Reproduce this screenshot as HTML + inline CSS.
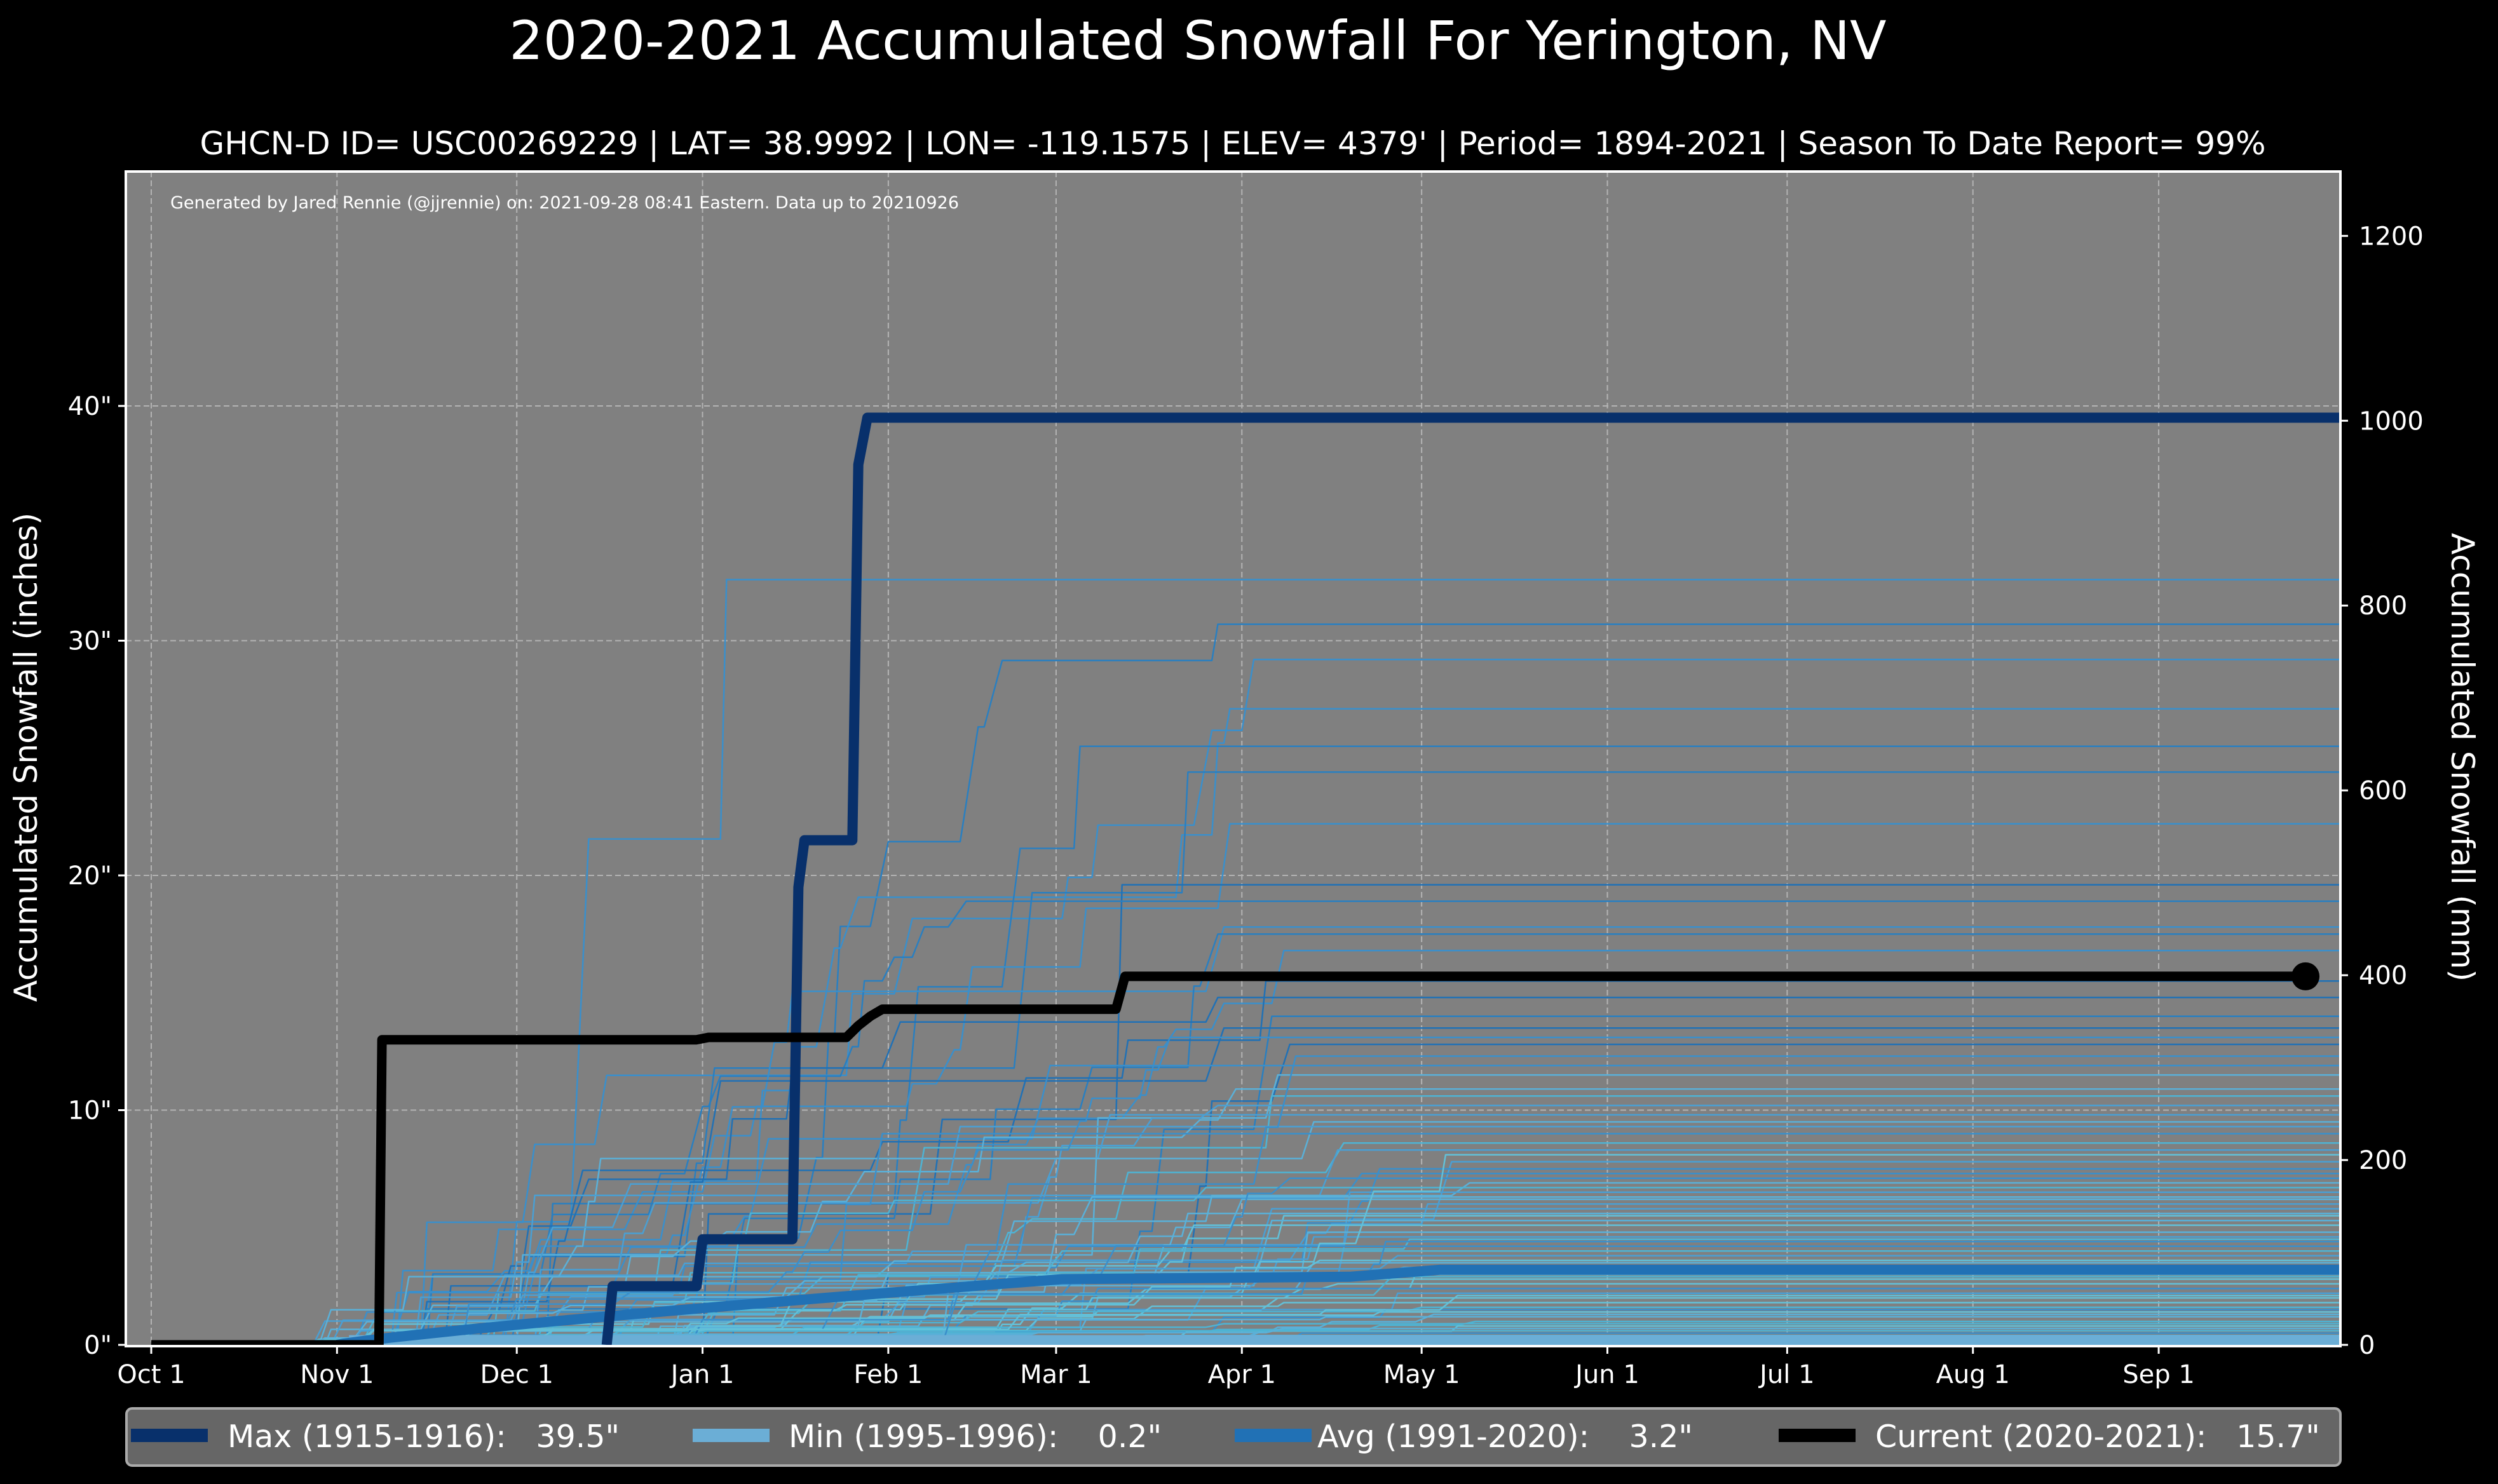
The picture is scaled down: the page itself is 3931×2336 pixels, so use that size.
<!DOCTYPE html>
<html><head><meta charset="utf-8"><style>
html,body{margin:0;padding:0;background:#000;}
svg{display:block;}
text{font-family:"DejaVu Sans","Liberation Sans",sans-serif;fill:#fff;}
</style></head><body>
<svg id="s" xmlns="http://www.w3.org/2000/svg" width="3931" height="2336" viewBox="0 0 3931 2336">
<rect width="3931" height="2336" fill="#000"/>
<text x="1885" y="93" font-size="84" text-anchor="middle">2020-2021 Accumulated Snowfall For Yerington, NV</text>
<text x="1940" y="243" font-size="50" text-anchor="middle">GHCN-D ID= USC00269229 | LAT= 38.9992 | LON= -119.1575 | ELEV= 4379' | Period= 1894-2021 | Season To Date Report= 99%</text>
<defs><clipPath id="cp"><rect x="198" y="270" width="3485" height="1849"/></clipPath></defs>
<rect x="198" y="270" width="3485" height="1849" fill="#808080"/>
<g id="grid" stroke="#c0c0c0" stroke-width="2" stroke-dasharray="9,5" opacity="0.8"></g>
<text x="268" y="328" font-size="27">Generated by Jared Rennie (@jjrennie) on: 2021-09-28 08:41 Eastern. Data up to 20210926</text>
<g id="thin" clip-path="url(#cp)" fill="none" stroke-width="2.5" stroke-linejoin="round"></g>
<g id="main" clip-path="url(#cp)" fill="none" stroke-linejoin="round"></g>
<rect x="198" y="270" width="3485" height="1849" fill="none" stroke="#fff" stroke-width="4"/>
<g id="ticks" stroke="#fff" stroke-width="3"></g>
<g id="labels" font-size="40"></g>
<text transform="translate(58,1192) rotate(-90)" font-size="50" text-anchor="middle">Accumulated Snowfall (inches)</text>
<text transform="translate(3858,1192) rotate(90)" font-size="50" text-anchor="middle">Accumulated Snowfall (mm)</text>
<rect x="199" y="2217" width="3484" height="90" rx="9" fill="#666" stroke="#aaa" stroke-width="4"/>
<rect x="206" y="2249" width="121" height="21" fill="#08306b"/>
<text x="358" y="2278" font-size="49" xml:space="preserve">Max (1915-1916):   39.5"</text>
<rect x="1090" y="2249" width="121" height="21" fill="#6baed6"/>
<text x="1241" y="2278" font-size="49" xml:space="preserve">Min (1995-1996):    0.2"</text>
<rect x="1943" y="2249" width="121" height="21" fill="#2171b5"/>
<text x="2073" y="2278" font-size="49" xml:space="preserve">Avg (1991-2020):    3.2"</text>
<rect x="2799" y="2249" width="121" height="21" fill="#000"/>
<text x="2951" y="2278" font-size="49" xml:space="preserve">Current (2020-2021):   15.7"</text>
</svg>
<script>
var NS="http://www.w3.org/2000/svg";
function X(d){return 238+d*9.43;}
function Y(v){return 2117-v*36.95;}
function el(p,t,a){var e=document.createElementNS(NS,t);for(var k in a)e.setAttribute(k,a[k]);p.appendChild(e);return e;}
var grid=document.getElementById('grid'),ticks=document.getElementById('ticks'),lab=document.getElementById('labels');
var months=[["Oct 1",0],["Nov 1",31],["Dec 1",61],["Jan 1",92],["Feb 1",123],["Mar 1",151],["Apr 1",182],["May 1",212],["Jun 1",243],["Jul 1",273],["Aug 1",304],["Sep 1",335]];
months.forEach(function(m){var x=X(m[1]);el(grid,'line',{x1:x,y1:270,x2:x,y2:2119});
 el(ticks,'line',{x1:x,y1:2119,x2:x,y2:2131});var t=el(lab,'text',{x:x,y:2177,'text-anchor':'middle'});t.textContent=m[0];});
for(var v=0;v<=40;v+=10){var y=Y(v);if(v>0)el(grid,'line',{x1:198,y1:y,x2:3683,y2:y});
 el(ticks,'line',{x1:186,y1:y,x2:198,y2:y});var t=el(lab,'text',{x:176,y:y+14,'text-anchor':'end'});t.textContent=v+'"';}
for(var mm=0;mm<=1200;mm+=200){var y=Y(mm/25.4);el(ticks,'line',{x1:3683,y1:y,x2:3695,y2:y});
 var t=el(lab,'text',{x:3712,y:y+14});t.textContent=mm;}
var seed=777;function r(){seed=(seed*16807)%2147483647;return (seed-1)/2147483646;}
var finals=[32.6,30.7,29.2,27.1,25.5,24.4,22.2,19.6,18.9,17.8,17.5,16.8,15.5,14.8,14.0,13.5,12.8,11.9,11.5,10.9,10.6,10.2,9.8,9.5,9.3,9.0,8.6,8.3,7.8,7.5,7.3,6.9,6.7,6.5,6.2,6.0,5.8,5.5,5.3,5.1,4.8,4.6,4.5,4.2,4.0,3.8,3.5,3.3,3.0,2.8,2.6,2.4,2.2,2.0,1.8,1.6,1.5,1.3,1.2,1.0,0.9,0.8,0.6,0.5,0.4,0.3,2.9,3.6,4.4,5.6,6.3,7.1,8.1,1.4,2.1,0.7,12.3,13.1];
var cols=["#2171b5","#2a7fc0","#3a8fcb","#4a9fd3","#4eb3d3","#5ab0d8","#62c0d8"];
var thin=document.getElementById('thin');
finals.forEach(function(T,i){
 var n=3+Math.floor(r()*(T>10?9:5));var ev=[],w=[],sw=0;
 for(var k=0;k<n;k++){var d=T>10?(40+Math.floor(r()*150)):(25+Math.floor(Math.pow(r(),0.9)*195));ev.push(d);var ww=r()+0.3;w.push(ww);sw+=ww;}
 ev.sort(function(a,b){return a-b;});
 var v=0,pts=[[0,0]],cur=0;
 for(var k=0;k<n;k++){var d=Math.max(ev[k],cur+1);pts.push([d,v]);v+=T*w[k]/sw;var dd=d+1+Math.floor(r()*3);pts.push([dd,v]);cur=dd;}
 pts.push([366,T]);
 var s=pts.map(function(p,j){return (j?'L':'M')+X(p[0]).toFixed(1)+','+Y(p[1]).toFixed(1);}).join('');
 var c=T>12?cols[Math.floor(r()*3)]:cols[2+Math.floor(r()*5)];
 el(thin,'path',{d:s,stroke:c});
});
var main=document.getElementById('main');
function P(pts){return pts.map(function(p,j){return (j?'L':'M')+X(p[0]).toFixed(1)+','+Y(p[1]).toFixed(1);}).join('');}
el(main,'path',{d:P([[33,0.2],[366,0.2]]),stroke:"#6baed6","stroke-width":16});
var avg=[[31,0]];for(var d=32;d<=152;d+=4){avg.push([d,2.8*Math.pow((d-31)/121,0.85)]);}
avg.push([200,2.9],[215,3.2],[366,3.2]);
el(main,'path',{d:P(avg),stroke:"#2171b5","stroke-width":16});
el(main,'path',{d:P([[76,0],[77,2.5],[91,2.5],[92,4.5],[107,4.5],[108,19.5],[109,21.5],[117,21.5],[118,37.5],[119.5,39.5],[366,39.5]]),stroke:"#08306b","stroke-width":16});
el(main,'path',{d:P([[0,0],[38,0],[38.5,13],[91,13],[93,13.1],[116,13.1],[118,13.6],[120,14.0],[122,14.3],[161,14.3],[162.5,15.7],[359.5,15.7]]),stroke:"#000","stroke-width":15});
el(main,'circle',{cx:X(359.5),cy:Y(15.7),r:22,fill:"#000",stroke:"none"});
</script>
</body></html>
